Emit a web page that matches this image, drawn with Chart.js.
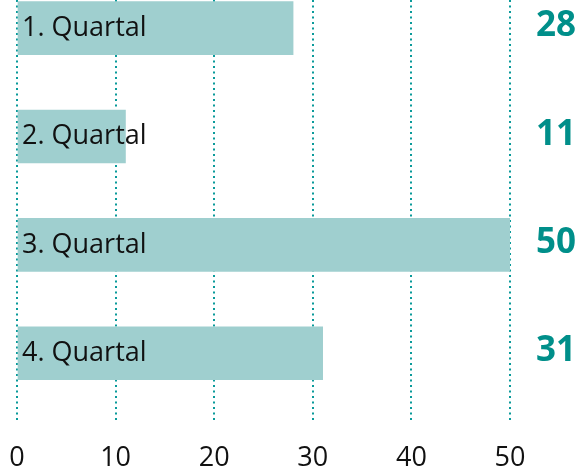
<!DOCTYPE html>
<html>
<head>
<meta charset="utf-8">
<script src="https://cdn.jsdelivr.net/npm/chart.js@4"></script>
<style>
  html, body { margin: 0; padding: 0; background: #fff; }
  #wrap { width: 587px; height: 472px; }
</style>
</head>
<body>
<div id="wrap"><canvas id="barChart"></canvas></div>
<script>
const categories = ["1. Quartal", "2. Quartal", "3. Quartal", "4. Quartal"];
const values = [28, 11, 50, 31];
const xTicks = [0, 10, 20, 30, 40, 50];

const barColor = "#9fcfcf";
const gridColor = "#0a9a9a";
const valueColor = "#008f8a";
const fontFamily = "'Open Sans', 'Noto Sans', sans-serif";

// labels inside bars + bold values on the right
const labelPlugin = {
  id: "labelPlugin",
  afterDatasetsDraw(chart) {
    const ctx = chart.ctx;
    const meta = chart.getDatasetMeta(0);
    const area = chart.chartArea;
    ctx.save();
    ctx.textBaseline = "middle";
    meta.data.forEach((bar, i) => {
      ctx.fillStyle = "#111";
      ctx.textAlign = "left";
      ctx.font = "27px " + fontFamily;
      ctx.fillText(categories[i], area.left + 5, bar.y);

      ctx.fillStyle = valueColor;
      ctx.textAlign = "right";
      ctx.font = "bold 35px " + fontFamily;
      ctx.fillText(String(values[i]), chart.width - 11, bar.y - 2);
    });
    ctx.restore();
  }
};

new Chart(document.getElementById("barChart").getContext("2d"), {
  type: "bar",
  data: {
    datasets: [{
      data: values.map((v, i) => ({ x: v, y: i })),
      backgroundColor: barColor,
      borderWidth: 0,
      barThickness: 53
    }]
  },
  options: {
    indexAxis: "y",
    responsive: true,
    maintainAspectRatio: false,
    animation: false,
    layout: { padding: { top: 0, right: 77, bottom: -23, left: 17 } },
    scales: {
      x: {
        type: "linear",
        min: xTicks[0],
        max: xTicks[xTicks.length - 1],
        afterBuildTicks: axis => { axis.ticks = xTicks.map(v => ({ value: v })); },
        afterFit: axis => { axis.paddingLeft = 0; axis.paddingRight = 0; },
        border: { display: false, dash: [2, 3.5] },
        grid: {
          color: gridColor,
          lineWidth: 2,
          drawTicks: false
        },
        ticks: {
          color: "#111",
          padding: 20,
          font: { family: fontFamily, size: 27 }
        }
      },
      y: {
        type: "linear",
        reverse: true,
        offset: false,
        min: -0.26,
        max: 3.64,
        display: false
      }
    },
    plugins: {
      legend: { display: false },
      tooltip: { enabled: false }
    }
  },
  plugins: [labelPlugin]
});
</script>
</body>
</html>
